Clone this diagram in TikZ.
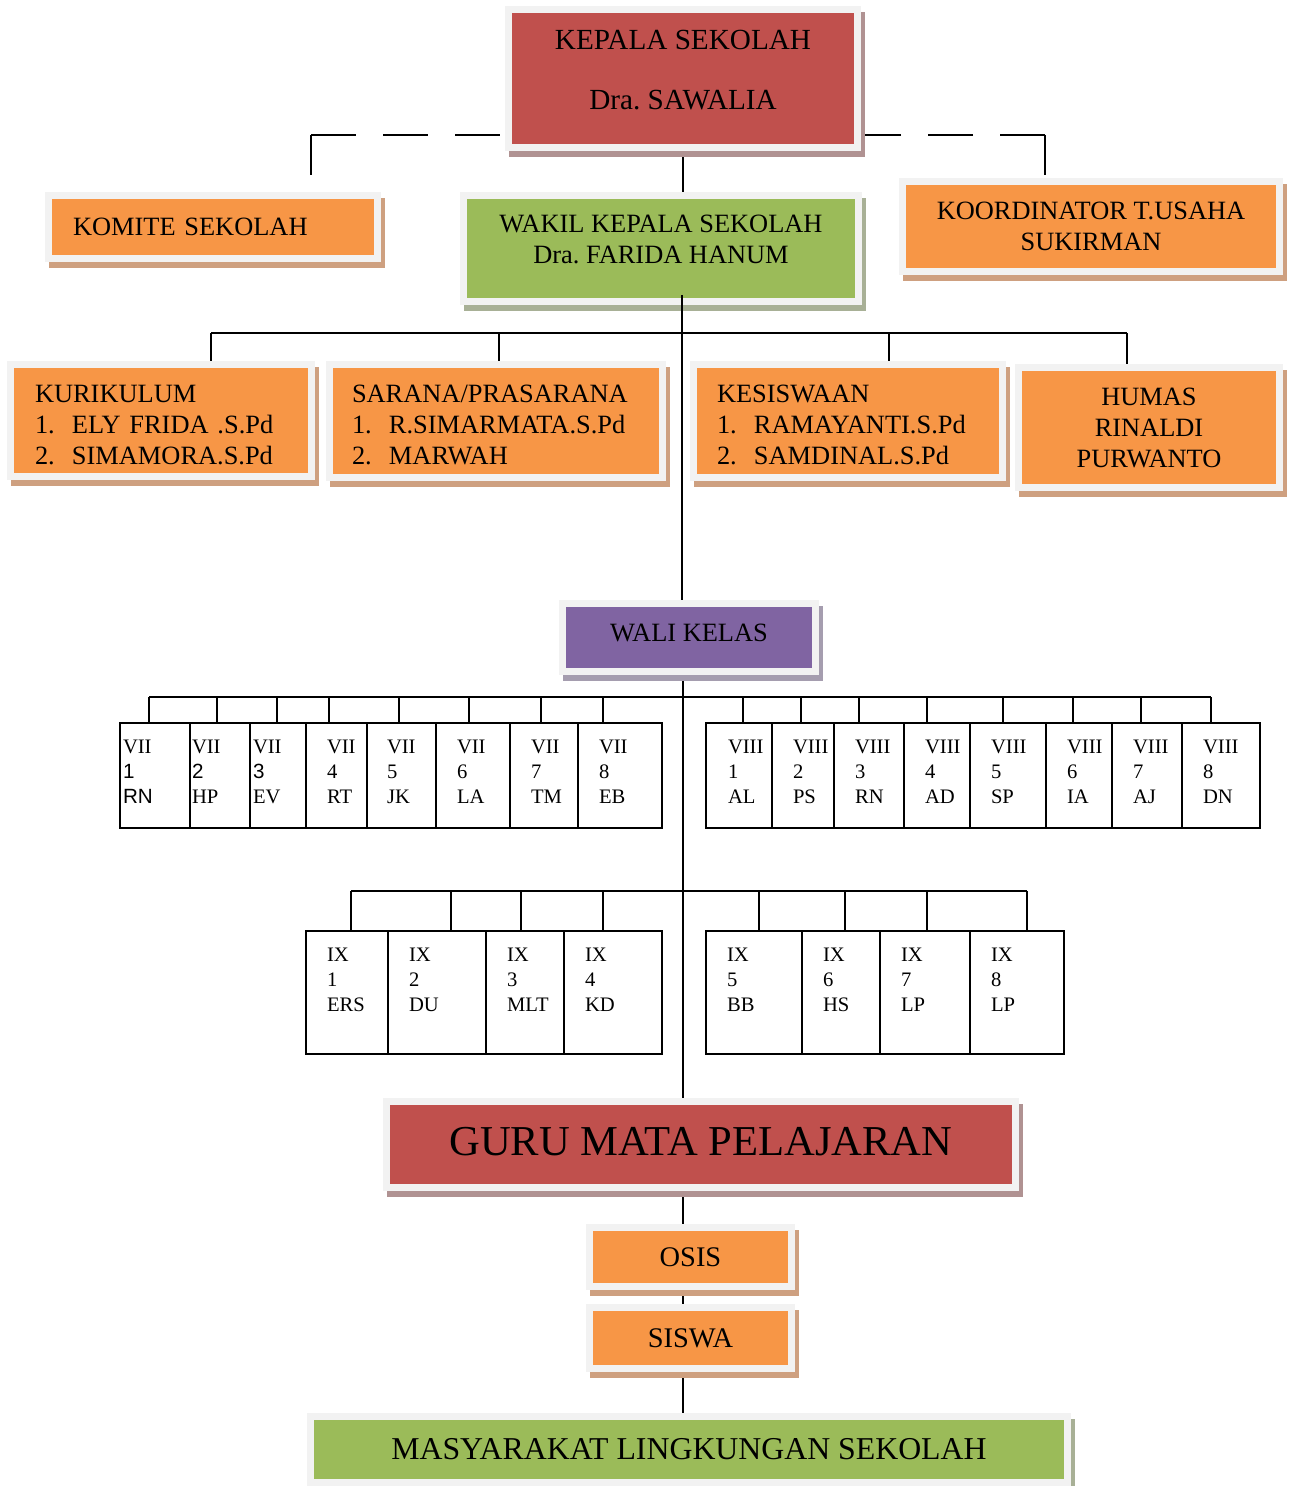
\documentclass[tikz,border=0pt]{standalone}
\usepackage{fontspec}
\setmainfont{Liberation Serif}
\newfontfamily\sansf{Liberation Sans}
\usetikzlibrary{calc}
\pgfdeclarelayer{bg}
\pgfsetlayers{bg,main}
\definecolor{ring}{HTML}{F2F2F2}
\definecolor{redf}{HTML}{C0504D}
\definecolor{reds}{HTML}{B09292}
\definecolor{grnf}{HTML}{9BBB59}
\definecolor{grns}{HTML}{A8B096}
\definecolor{orgf}{HTML}{F79646}
\definecolor{orgs}{HTML}{CEA080}
\definecolor{purf}{HTML}{8064A2}
\definecolor{purs}{HTML}{A59DAF}
\newcommand\numb[1]{\makebox[18.5pt][l]{#1}}
\newcommand\topstr{\rule{0pt}{12.7pt}}
\newcommand\kcell[7]{%
  \node[cellbox] (#1) at (#2,#4) {\parbox[t][\dimexpr 0.5pt*(#5-#4)\relax][t]{\dimexpr 0.5pt*(#3-#2)\relax}{\raggedright\leftskip=\dimexpr 0.5pt*#6\relax\rule{0pt}{15pt}#7}};}
\begin{document}
\frenchspacing
\begin{tikzpicture}[x=0.5pt,y=-0.5pt,
  conn/.style={line width=1pt},
  dashline/.style={line width=1pt, dash pattern=on 22.5pt off 13.5pt},
  obox/.style 2 args={rectangle, fill=#1, draw=ring, line width=3.5pt, inner sep=0pt, text=black,
    font=\fontsize{13.2}{15.5}\selectfont\frenchspacing,
    preaction={fill=#2, draw=#2, transform canvas={shift={(2pt,-3pt)}}}},
  cellbox/.style={draw, line width=1pt, rectangle, inner sep=0pt, anchor=north west,
    font=\fontsize{10.3}{12.5}\selectfont}]
\useasboundingbox (0,0) rectangle (1292,1486);

% ---- boxes ----
\node[obox={redf}{reds}, minimum width=174.5pt, minimum height=69pt, align=center,
  font=\fontsize{14.6}{15}\selectfont\frenchspacing] (kep) at (683,78.5)
  {KEPALA SEKOLAH\\[15pt]Dra. SAWALIA\rule[-8.5pt]{0pt}{0pt}};
\node[obox={orgf}{orgs}, minimum width=164.5pt, minimum height=31.5pt, text width=140pt, align=left] (kom) at (213,227)
  {KOMITE SEKOLAH};
\node[obox={grnf}{grns}, minimum width=197.5pt, minimum height=53pt, align=center] (wak) at (661,248.5)
  {WAKIL KEPALA SEKOLAH\\Dra. FARIDA HANUM\rule[-9pt]{0pt}{0pt}};
\node[obox={orgf}{orgs}, minimum width=188.5pt, minimum height=45pt, align=center] (koo) at (1091,226.5)
  {KOORDINATOR T.USAHA\\SUKIRMAN};
\node[obox={orgf}{orgs}, minimum width=150.5pt, minimum height=56pt, text width=126pt, align=left] (kur) at (161,420.5)
  {\topstr KURIKULUM\\\mbox{\numb{1.}ELY FRIDA .S.Pd}\\\mbox{\numb{2.}SIMAMORA.S.Pd}};
\node[obox={orgf}{orgs}, minimum width=166.5pt, minimum height=56.5pt, text width=144pt, align=left] (sar) at (496,421)
  {\topstr SARANA/PRASARANA\\\mbox{\numb{1.}R.SIMARMATA.S.Pd}\\\mbox{\numb{2.}MARWAH}};
\node[obox={orgf}{orgs}, minimum width=154.5pt, minimum height=56.5pt, text width=131pt, align=left] (kes) at (848,421)
  {\topstr KESISWAAN\\\mbox{\numb{1.}RAMAYANTI.S.Pd}\\\mbox{\numb{2.}SAMDINAL.S.Pd}};
\node[obox={orgf}{orgs}, minimum width=130.5pt, minimum height=60pt, align=center] (hum) at (1149,427.5)
  {HUMAS\\RINALDI\\PURWANTO};
\node[obox={purf}{purs}, minimum width=126.5pt, minimum height=34pt, align=center] (wal) at (689,637.5)
  {WALI KELAS\rule[-4.5pt]{0pt}{0pt}};
\node[obox={redf}{reds}, minimum width=314.5pt, minimum height=43pt, align=center,
  font=\fontsize{21.3}{24}\selectfont] (gur) at (701,1144.5)
  {GURU MATA PELAJARAN\rule[-3.5pt]{0pt}{0pt}};
\node[obox={orgf}{orgs}, minimum width=101pt, minimum height=29.5pt, align=center,
  font=\fontsize{14.2}{16}\selectfont] (osi) at (690.5,1257) {OSIS};
\node[obox={orgf}{orgs}, minimum width=101pt, minimum height=30.5pt, align=center,
  font=\fontsize{14.2}{16}\selectfont] (sis) at (690.5,1338) {SISWA};
\node[obox={grnf}{grns}, minimum width=378.5pt, minimum height=33pt, align=center,
  font=\fontsize{15.9}{18}\selectfont] (mas) at (689,1449.5) {MASYARAKAT LINGKUNGAN SEKOLAH};

% ---- class cells ----
\kcell{v1}{119}{189}{722}{827}{3}{VII\\{\sansf 1}\\{\sansf RN}}
\kcell{v2}{189}{249}{722}{827}{2}{VII\\{\sansf 2}\\HP}
\kcell{v3}{249}{305}{722}{827}{3}{VII\\{\sansf 3}\\EV}
\kcell{v4}{305}{366}{722}{827}{21}{VII\\4\\RT}
\kcell{v5}{366}{435}{722}{827}{20}{VII\\5\\JK}
\kcell{v6}{435}{509}{722}{827}{21}{VII\\6\\LA}
\kcell{v7}{509}{577}{722}{827}{21}{VII\\7\\TM}
\kcell{v8}{577}{661}{722}{827}{21}{VII\\8\\EB}
\kcell{w1}{705}{771}{722}{827}{22}{VIII\\1\\AL}
\kcell{w2}{771}{833}{722}{827}{21}{VIII\\2\\PS}
\kcell{w3}{833}{903}{722}{827}{21}{VIII\\3\\RN}
\kcell{w4}{903}{969}{722}{827}{21}{VIII\\4\\AD}
\kcell{w5}{969}{1045}{722}{827}{21}{VIII\\5\\SP}
\kcell{w6}{1045}{1111}{722}{827}{21}{VIII\\6\\IA}
\kcell{w7}{1111}{1181}{722}{827}{21}{VIII\\7\\AJ}
\kcell{w8}{1181}{1259}{722}{827}{21}{VIII\\8\\DN}
\kcell{i1}{305}{387}{930}{1053}{21}{IX\\1\\ERS}
\kcell{i2}{387}{485}{930}{1053}{21}{IX\\2\\DU}
\kcell{i3}{485}{563}{930}{1053}{21}{IX\\3\\MLT}
\kcell{i4}{563}{661}{930}{1053}{21}{IX\\4\\KD}
\kcell{i5}{705}{801}{930}{1053}{21}{IX\\5\\BB}
\kcell{i6}{801}{879}{930}{1053}{21}{IX\\6\\HS}
\kcell{i7}{879}{969}{930}{1053}{21}{IX\\7\\LP}
\kcell{i8}{969}{1063}{930}{1053}{21}{IX\\8\\LP}

% ---- connectors ----
\coordinate (wv) at ($(wak.south)+(21,-10)$);
\draw[conn] (wv) -- (wv |- wal.north);
\foreach \n/\x in {v1/149,v2/217,v3/277,v4/329,v5/399,v6/469,v7/541,v8/603,
                   w1/743,w2/801,w3/859,w4/927,w5/1003,w6/1073,w7/1141,w8/1211}{
  \coordinate (d-\n) at (\x,697);
  \draw[conn] (d-\n) -- (d-\n |- \n.north);
}
\draw[conn] (d-v1) -- (d-w8);
\foreach \n/\x in {i1/351,i2/451,i3/521,i4/603,i5/759,i6/845,i7/927,i8/1027}{
  \coordinate (d-\n) at (\x,891);
  \draw[conn] (d-\n) -- (d-\n |- \n.north);
}
\draw[conn] (d-i1) -- (d-i8);

\begin{pgfonlayer}{bg}
\draw[conn] (kep.south) -- (kep.south |- wak.north);
\coordinate (kl) at (311,135);
\coordinate (kr) at (1045,135);
\draw[conn] (kl) -- ++(0,40);
\draw[dashline] (kl) -- (kl -| kep.west);
\draw[conn] (kr) -- ++(0,40);
\draw[dashline] (kr) -- (kr -| kep.east);
\coordinate (bk) at (211,333);
\coordinate (bs) at (499,333);
\coordinate (be) at (889,333);
\coordinate (bh) at (1127,333);
\draw[conn] (bk) -- (bh);
\draw[conn] (bk) -- (bk |- kur.north);
\draw[conn] (bs) -- (bs |- sar.north);
\draw[conn] (be) -- (be |- kes.north);
\draw[conn] (bh) -- (bh |- hum.north);
\coordinate (wl) at (683,0);
\draw[conn] (wal.south -| wl) -- (gur.north -| wl);
\draw[conn] (gur.south -| wl) -- (osi.north -| wl);
\draw[conn] (osi.south -| wl) -- (sis.north -| wl);
\draw[conn] (sis.south -| wl) -- (mas.north -| wl);
\end{pgfonlayer}
\end{tikzpicture}
\end{document}
